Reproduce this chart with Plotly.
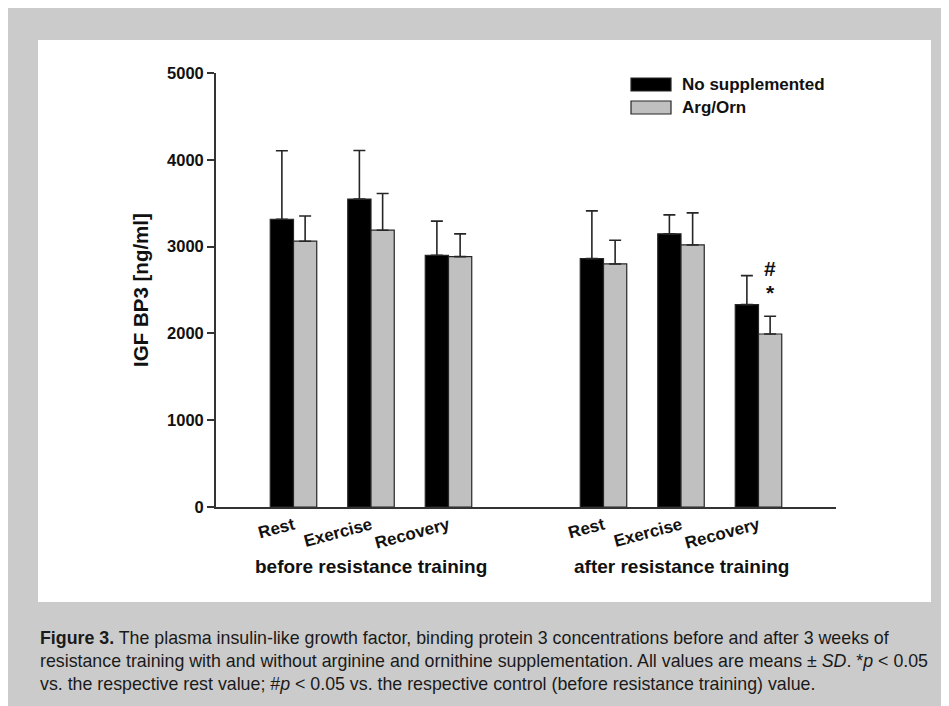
import plotly.graph_objects as go

# ---- data ----
phases = ["Rest", "Exercise", "Recovery", "Rest", "Exercise", "Recovery"]
xpos = [0, 1, 2, 4, 5, 6]
periods = ["before resistance training", "after resistance training"]
period_x = [1, 5]
no_supp_mean = [3315, 3547, 2900, 2862, 3147, 2331]
no_supp_sd = [790, 560, 393, 550, 219, 335]
argorn_mean = [3062, 3189, 2885, 2800, 3019, 1993]
argorn_sd = [290, 423, 262, 274, 370, 204]
series_names = ["No supplemented", "Arg/Orn"]
sig_marks = ["*", "#"]  # over Arg/Orn, after-training recovery
yticks = [0, 1000, 2000, 3000, 4000, 5000]

OFF = 8  # the page body has an 8 px margin
W, H = 949 - OFF, 706 - OFF
L = 216 - OFF
T = 73 - OFF
R = W - (836 - OFF)
B = H - (507 - OFF)
PW, PH = W - L - R, H - T - B


def px(x):
    return (x - OFF - L) / PW


def py(y):
    return (H - B - (y - OFF)) / PH


FONT = "Liberation Sans, Arial, Helvetica, sans-serif"
BLACK = "#000000"
GREY = "#c0c0c0"
EDGE = "#262626"

fig = go.Figure()
fig.add_trace(go.Bar(
    x=xpos, y=no_supp_mean, name=series_names[0],
    marker=dict(color=BLACK, line=dict(color=EDGE, width=1.2)),
    error_y=dict(type="data", array=no_supp_sd, arrayminus=[0] * 6,
                 symmetric=False, color=EDGE, thickness=1.6, width=6),
    showlegend=False,
))
fig.add_trace(go.Bar(
    x=xpos, y=argorn_mean, name=series_names[1],
    marker=dict(color=GREY, line=dict(color=EDGE, width=1.2)),
    error_y=dict(type="data", array=argorn_sd, arrayminus=[0] * 6,
                 symmetric=False, color=EDGE, thickness=1.6, width=6),
    showlegend=False,
))

shapes = [
    # grey page frame and white chart panel
    dict(type="rect", xref="paper", yref="paper", layer="below",
         x0=px(6), x1=px(970), y0=py(6), y1=py(730),
         fillcolor="#cbcbcb", line=dict(width=0)),
    dict(type="rect", xref="paper", yref="paper", layer="below",
         x0=px(38), x1=px(931), y0=py(40), y1=py(602),
         fillcolor="#ffffff", line=dict(width=0)),
    # legend swatches
    dict(type="rect", xref="paper", yref="paper",
         x0=px(631), x1=px(671), y0=py(78), y1=py(91),
         fillcolor=BLACK, line=dict(color=EDGE, width=1.2)),
    dict(type="rect", xref="paper", yref="paper",
         x0=px(631), x1=px(671), y0=py(101), y1=py(114),
         fillcolor=GREY, line=dict(color=EDGE, width=1.2)),
]

annotations = [
    dict(text="<b>%s</b>" % series_names[0], xref="paper", yref="paper",
         x=px(680), y=py(84.5), xanchor="left", yanchor="middle",
         showarrow=False, font=dict(family=FONT, size=17, color="#111")),
    dict(text="<b>%s</b>" % series_names[1], xref="paper", yref="paper",
         x=px(680), y=py(107.5), xanchor="left", yanchor="middle",
         showarrow=False, font=dict(family=FONT, size=17, color="#111")),
]
for lab, xx in zip(periods, period_x):
    annotations.append(dict(
        text="<b>%s</b>" % lab, x=xx, xref="x", y=py(566.5), yref="paper",
        xanchor="center", yanchor="middle", showarrow=False,
        font=dict(family=FONT, size=19, color="#111")))

# significance marks above the Arg/Orn recovery bar (after training)
top = argorn_mean[5] + argorn_sd[5]
for i, m in enumerate(sig_marks):
    annotations.append(dict(
        text="<b>%s</b>" % m, x=xpos[5] + 0.15, xref="x", y=top, yref="y",
        yshift=24 + 24 * i, xanchor="center", yanchor="middle",
        showarrow=False, font=dict(family=FONT, size=21, color="#111")))

caption = [
    "<b>Figure 3.</b> The plasma insulin-like growth factor, binding protein 3 concentrations before and after 3 weeks of",
    "resistance training with and without arginine and ornithine supplementation. All values are means \u00b1 <i>SD</i>. *<i>p</i> &lt; 0.05",
    "vs. the respective rest value; #<i>p</i> &lt; 0.05 vs. the respective control (before resistance training) value.",
]
for i, line in enumerate(caption):
    annotations.append(dict(
        text=line, xref="paper", yref="paper", x=px(38), y=py(638 + 23 * i),
        xanchor="left", yanchor="middle", showarrow=False, align="left",
        font=dict(family=FONT, size=17.8, color="#1a1a1a")))

fig.update_layout(
    width=W, height=H,
    margin=dict(l=L, r=R, t=T, b=B, autoexpand=False),
    paper_bgcolor="#ffffff", plot_bgcolor="rgba(0,0,0,0)",
    barmode="group", bargap=0.4, bargroupgap=0,
    shapes=shapes, annotations=annotations,
    showlegend=False,
    xaxis=dict(
        range=[-1, 7], tickvals=xpos, ticktext=["<b>%s</b>" % p for p in phases],
        tickangle=-15, ticks="", showline=True, linecolor="#333", linewidth=1.8,
        showgrid=False, zeroline=False,
        tickfont=dict(family=FONT, size=17, color="#111"),
    ),
    yaxis=dict(
        range=[0, 5000], tickvals=yticks, ticks="outside", ticklen=7,
        tickwidth=1.8, tickcolor="#333", showline=True, linecolor="#333",
        linewidth=1.8, showgrid=False, zeroline=False,
        tickfont=dict(family=FONT, size=16.5, color="#111", weight="bold"),
        title=dict(text="<b>IGF BP3 [ng/ml]</b>", standoff=13,
                   font=dict(family=FONT, size=20.5, color="#111")),
    ),
)

fig.write_html("out.html")
